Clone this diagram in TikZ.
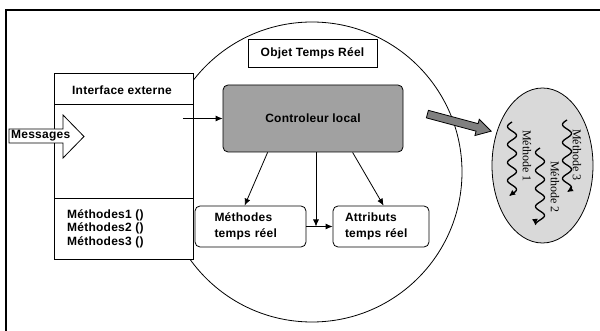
\documentclass[tikz,border=0pt]{standalone}
\usepackage{fontspec}
\setmainfont{Liberation Sans}[LetterSpace=2]
\newfontfamily\serifb{Liberation Serif}
\usetikzlibrary{shapes.arrows,shapes.geometric,arrows.meta}
\tikzset{
  thinline/.style={draw, line width=0.8pt},
  box/.style={thinline, fill=white, inner sep=0pt},
  rbox/.style={thinline, fill=white, rounded corners=5pt, inner sep=0pt, align=left},
  conn/.style={line width=0.8pt, -{Latex[length=7pt,width=6pt]}},
  wave/.style={line width=1.3pt, -{Latex[length=6pt,width=6pt]}},
  wlabel/.style={rotate=-90, font=\serifb\mdseries\fontsize{12}{14}\selectfont},
}
\begin{document}
\begin{tikzpicture}[x=1pt,y=-1pt, font=\fontsize{12}{16}\selectfont\bfseries]
\useasboundingbox (0,0) rectangle (600,331);
% frame
\draw[line width=2.5pt] (6,331) -- (6,10) -- (600,10);
% big circle
\node[circle, thinline, minimum size=300pt, inner sep=0pt] (obj) at (312,172) {};
% interface box
\node[box, minimum width=139pt, minimum height=186pt, anchor=north west] (iface) at (54,73) {};
\draw[line width=0.8pt] (54,104) -- (193,104);
\draw[line width=0.8pt] (54,198) -- (193,198);
\node (ie) at (122,90) {Interface externe};
\node[anchor=north west, align=left, inner sep=0pt, font=\fontsize{12}{13.5}\selectfont\bfseries] (ml) at (67,209) {Méthodes1 ()\\Méthodes2 ()\\Méthodes3 ()};
% messages arrow
\draw[line width=0.8pt, fill=white] (9,129) -- (63,129) -- (63,115) -- (84,136.5) -- (63,158) -- (63,143) -- (9,143) -- cycle;
\node[anchor=west, inner sep=0pt] (msg) at (11,136) {Messages};
% objet temps reel
\node[box, minimum width=129pt, minimum height=28pt] (otr) at (312.5,53) {Objet Temps Réel};
% controleur
\node[thinline, rounded corners=5pt, fill=black!37, minimum width=180pt, minimum height=67pt] (ctrl) at (313,118.5) {Controleur local};
% methodes / attributs
\node[rbox, minimum width=111pt, minimum height=41pt, text width=72pt] (mtr) at (250.5,226.5) {Méthodes\\temps réel};
\node[rbox, minimum width=96pt, minimum height=41pt, text width=72pt] (atr) at (381,226.5) {Attributs\\temps réel};
% connectors
\coordinate (ifin) at ([xshift=-11pt]iface.east |- ctrl.west);
\draw[conn] (ifin) -- (ctrl.west);
\draw[conn] ([xshift=45pt]ctrl.south west) -- ([xshift=50pt]mtr.north west);
\draw[conn] ([xshift=130pt]ctrl.south west) -- ([xshift=51pt]atr.north west);
\draw[conn] (mtr.east) -- (atr.west);
\coordinate (jn) at ([xshift=3pt]ctrl.south |- mtr.east);
\draw[conn] ([xshift=3pt]ctrl.south) -- (jn);
% gray arrow
\node[single arrow, draw, line width=0.8pt, fill=black!50, inner sep=3.5pt, minimum height=66pt, single arrow head extend=4.5pt, single arrow tip angle=60, rotate=-15, anchor=tail] (ga) at (427,114) {};
% ellipse
\node[ellipse, thinline, fill=black!15, minimum width=101pt, minimum height=155pt, inner sep=0pt] (el) at (542.5,165.5) {};
\coordinate (w1s) at (512,122);
\coordinate (w3s) at (567,120);
\coordinate (w2s) at (540,148);
\draw[wave, shift={(w1s)}] plot[domain=0:74, samples=80, smooth] ({-4.5*sin(20*\x)}, {\x});
\draw[wave, shift={(w3s)}] plot[domain=0:72, samples=80, smooth] ({-4.5*sin(20*\x)}, {\x});
\draw[wave, shift={(w2s)}] plot[domain=0:77, samples=80, smooth] ({-4.5*sin(20*\x)}, {\x});
\node[wlabel] (l1) at (527,156) {Méthode 1};
\node[wlabel] (l3) at (577,155) {Méthode 3};
\node[wlabel] (l2) at (555,187) {Méthode 2};
\end{tikzpicture}
\end{document}
